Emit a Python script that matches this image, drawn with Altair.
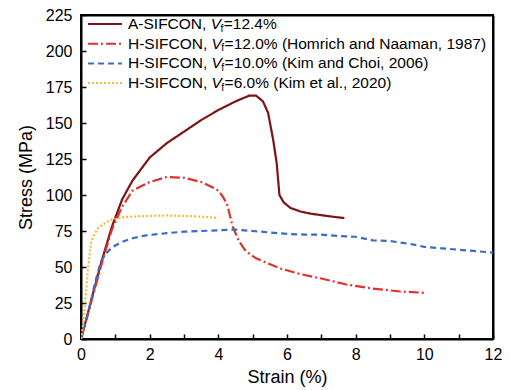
import altair as alt
import pandas as pd

# legend text pieces: prefix, italic symbol, subscript, remainder
leg_prefix = ["A-SIFCON, ", "H-SIFCON, ", "H-SIFCON, ", "H-SIFCON, "]
leg_rest = [
    "=12.4%",
    "=12.0% (Homrich and Naaman, 1987)",
    "=10.0% (Kim and Choi, 2006)",
    "=6.0%  (Kim et al., 2020)",
]
labels = [p + "Vf" + r for p, r in zip(leg_prefix, leg_rest)]
colors = ["#7a1416", "#e0322c", "#3a6cc4", "#f6b93b"]
dashes = [[1, 0], [10, 3, 2, 3], [6, 4], [2, 2]]

a_x = [0, 0.3, 0.6, 0.9, 1.2, 1.5, 2.0, 2.5, 3.0, 3.5, 4.0, 4.5, 4.9, 5.1, 5.3, 5.45, 5.6, 5.7, 5.78, 5.9, 6.1, 6.4, 6.7, 7.0, 7.3, 7.67]
a_y = [0, 27, 54, 78, 97, 110, 126, 136, 144, 152, 159, 165, 169, 169, 165, 157, 138, 122, 100, 95, 91, 88.5, 87, 86, 85, 84]

h12_x = [0, 0.3, 0.6, 0.9, 1.2, 1.5, 2.0, 2.5, 3.0, 3.5, 3.95, 4.1, 4.25, 4.42, 4.6, 4.8, 5.1, 5.4, 5.8, 6.4, 7.0, 7.7, 8.5, 9.3, 10.05]
h12_y = [0, 26, 52, 76, 92, 103, 109, 112.5, 112, 109, 104, 100, 94, 78, 68, 61, 56, 53, 49, 45, 42, 38, 35, 33, 32]

h10_x = [0, 0.2, 0.4, 0.58, 0.75, 0.9, 1.15, 1.5, 1.9, 2.5, 3.0, 3.5, 4.0, 4.5, 5.0, 5.5, 6.0, 6.5, 7.0, 7.5, 8.0, 8.5, 9.0, 9.6, 10.0, 10.5, 11.0, 11.5, 12.0]
h10_y = [0, 17, 38, 54, 60, 63.5, 67, 70, 72, 73.5, 74.5, 75, 75.5, 76, 75, 74, 73, 72.5, 72.5, 71.5, 71, 68.5, 68, 66, 64, 63, 62, 61, 60]

h6_x = [0, 0.05, 0.1, 0.15, 0.2, 0.3, 0.4, 0.5, 0.7, 0.9, 1.2, 1.5, 2.0, 2.5, 3.0, 3.5, 4.0]
h6_y = [0, 8, 20, 34, 48, 68, 73, 77, 80.5, 83, 84.5, 85, 85.5, 85.8, 85.5, 85, 84]

x_ticks = [0, 1, 2, 3, 4, 5, 6, 7, 8, 9, 10, 11, 12]
y_ticks = [0, 25, 50, 75, 100, 125, 150, 175, 200, 225]

rows = []
for lab, xs, ys in zip(labels, [a_x, h12_x, h10_x, h6_x], [a_y, h12_y, h10_y, h6_y]):
    for i, (xv, yv) in enumerate(zip(xs, ys)):
        rows.append({"series": lab, "strain": xv, "stress": yv, "idx": i})
df = pd.DataFrame(rows)

FONT = "Liberation Sans"
W, H = 412, 324
LFS = 15.5  # legend font size

# Arial / Liberation Sans advance widths (per 1000 em)
AW = {"A": 667, "H": 722, "-": 333, "S": 667, "I": 278, "F": 611, "C": 722, "O": 778,
      "N": 722, ",": 278, " ": 278, "V": 667, "f": 278}


def text_w(s, size):
    return sum(AW[c] for c in s) * size / 1000.0


# frame drawn by the grid lines at the domain ends; inward ticks via negative tick size
x_axis = alt.Axis(
    values=x_ticks, title="Strain (%)",
    labelExpr="datum.value % 2 === 0 ? datum.label : ''",
    ticks=True, tickSize=alt.ExprRef(expr="-5"), tickColor="black", tickWidth=1.5,
    domain=False, grid=True,
    gridColor={"condition": {"test": "datum.value === 0 || datum.value === 12", "value": "black"},
               "value": "transparent"},
    gridWidth=2,
    labelFontSize=16, titleFontSize=18, labelPadding=12, titlePadding=6,
    labelFlush=False,
    labelFont=FONT, titleFont=FONT, labelColor="black", titleColor="black",
    titleFontWeight="normal")
y_axis = alt.Axis(
    values=y_ticks, title="Stress (MPa)",
    ticks=True, tickSize=alt.ExprRef(expr="-5"), tickColor="black", tickWidth=1.5,
    domain=False, grid=True,
    gridColor={"condition": {"test": "datum.value === 0 || datum.value === 225", "value": "black"},
               "value": "transparent"},
    gridWidth=2,
    labelFontSize=16, titleFontSize=18, labelPadding=14, titlePadding=10,
    labelFlush=False,
    labelFont=FONT, titleFont=FONT, labelColor="black", titleColor="black",
    titleFontWeight="normal")
x_scale = alt.Scale(domain=[0, 12], nice=False, zero=True)
y_scale = alt.Scale(domain=[0, 225], nice=False, zero=True)

lines = alt.Chart(df).mark_line(strokeWidth=2.2, clip=True).encode(
    x=alt.X("strain:Q", scale=x_scale, axis=x_axis),
    y=alt.Y("stress:Q", scale=y_scale, axis=y_axis),
    color=alt.Color("series:N", scale=alt.Scale(domain=labels, range=colors), sort=labels, legend=None),
    strokeDash=alt.StrokeDash("series:N", scale=alt.Scale(domain=labels, range=dashes), sort=labels, legend=None),
    order="idx:Q",
)

# hand-built legend (italic V with subscript f)
one = pd.DataFrame({"k": [0]})
legend_layers = []
SYM_X0, SYM_X1, TXT_X = 7, 41, 47
ROW0, ROWSTEP = 9, 19.7
for i in range(len(labels)):
    yy = ROW0 + ROWSTEP * i
    legend_layers.append(
        alt.Chart(one).mark_rule(color=colors[i], strokeDash=dashes[i], strokeWidth=2).encode(
            x=alt.value(SYM_X0), x2=alt.value(SYM_X1), y=alt.value(yy)
        )
    )
    x_v = TXT_X + text_w(leg_prefix[i], LFS)
    x_f = x_v + text_w("V", LFS) - 0.5
    x_r = x_f + text_w("f", 10.5) + 0.3
    pieces = [
        (leg_prefix[i], TXT_X, LFS, "normal", 0),
        ("V", x_v, LFS, "italic", 0),
        ("f", x_f, 10.5, "normal", 4.5),
        (leg_rest[i], x_r, LFS, "normal", 0),
    ]
    for txt, xx, fs, style, dy in pieces:
        legend_layers.append(
            alt.Chart(pd.DataFrame({"t": [txt]})).mark_text(
                align="left", baseline="middle", font=FONT, fontSize=fs, fontStyle=style,
                color="black", dy=dy
            ).encode(text="t:N", x=alt.value(xx), y=alt.value(yy))
        )

chart = alt.layer(lines, *legend_layers).properties(
    width=W, height=H,
    background="white",
    autosize=alt.AutoSizeParams(type="none"),
    padding={"left": 73, "top": 7, "right": 10, "bottom": 50},
).configure_view(stroke="black", strokeWidth=2)

chart.save("out.html", embed_options={"renderer": "svg", "actions": False})
